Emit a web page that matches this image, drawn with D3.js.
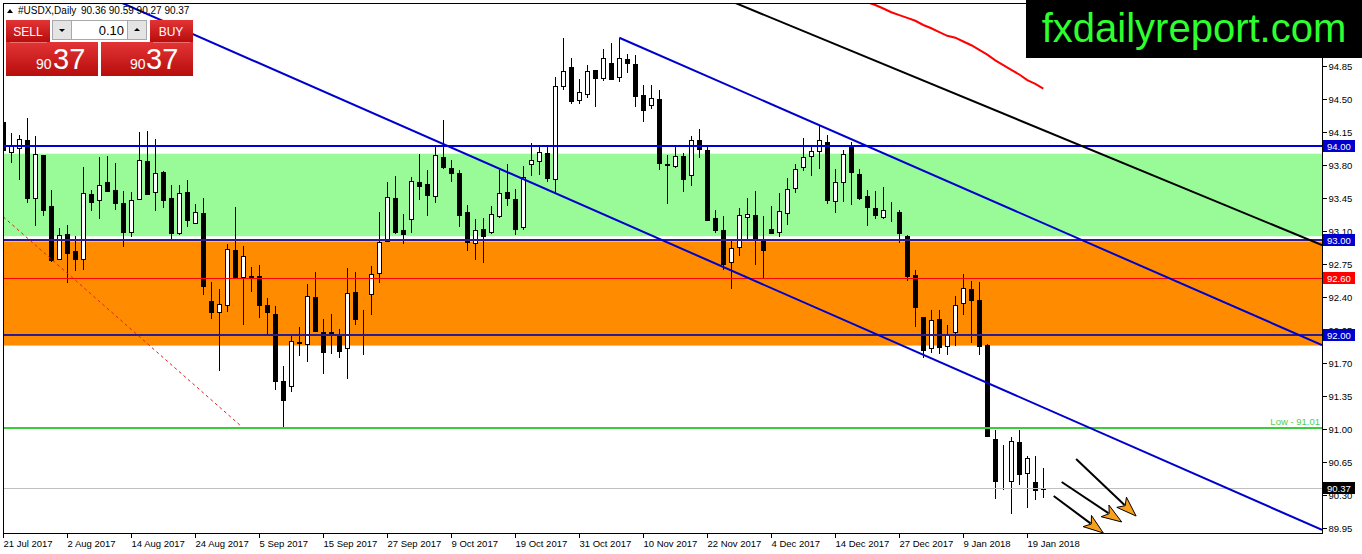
<!DOCTYPE html>
<html>
<head>
<meta charset="utf-8">
<script src="https://cdn.jsdelivr.net/npm/d3@7"></script>
<style>
body { margin: 0; background: #fff; overflow: hidden; }
svg { display: block; font-family: "Liberation Sans", Arial, sans-serif; }
</style>
</head>
<body>
<script>
// daily candles, bar 0 = 21 Jul 2017
var opens = [94.26,93.94,93.98,94.07,93.45,93.91,93.36,92.81,93.07,92.89,92.80,93.49,93.43,93.62,93.53,93.40,93.09,93.44,93.84,93.51,
  93.73,93.45,93.08,93.51,93.18,93.29,92.36,92.24,92.32,92.90,92.62,92.62,92.62,92.31,92.22,91.51,91.45,91.91,91.90,92.40,
  92.03,92.02,92.00,91.86,92.45,92.17,92.43,92.65,92.99,93.45,93.11,93.23,93.62,93.60,93.47,93.89,93.77,93.72,93.30,92.97,
  93.12,93.09,93.26,93.51,93.44,93.14,93.81,93.84,93.93,93.65,94.64,94.84,94.49,94.56,94.81,94.72,94.88,94.73,94.92,94.87,
  94.54,94.44,94.50,93.81,93.79,93.90,93.70,94.07,93.96,93.24,93.11,92.77,92.93,93.25,93.27,93.00,93.12,93.09,93.30,93.56,
  93.78,93.90,93.94,94.04,93.42,93.62,94.01,93.70,93.47,93.34,93.25,93.28,93.30,93.05,92.63,92.19,91.86,92.17,91.88,92.03,
  92.34,92.49,92.37,91.89,90.89,90.45,90.45,90.86,90.53,90.44,90.36];
var highs = [94.38,94.14,94.12,94.30,94.11,93.91,93.54,93.13,93.16,93.05,93.78,93.54,93.88,93.90,93.82,93.52,93.51,94.15,94.16,94.08,
  93.74,93.59,93.59,93.64,93.39,93.45,92.56,92.48,92.96,93.35,92.94,92.72,92.74,92.39,92.30,91.67,92.00,92.08,92.54,92.66,
  92.17,92.22,92.06,92.71,92.66,92.26,92.73,93.30,93.62,93.68,93.28,93.67,93.92,93.75,94.01,94.28,93.85,93.75,93.38,93.23,
  93.24,93.36,93.75,93.81,93.55,93.79,94.03,94.00,94.00,94.73,95.15,94.94,94.71,94.86,94.81,95.03,95.09,95.15,94.98,94.97,
  94.65,94.65,94.60,93.91,94.00,93.93,94.11,94.18,94.01,93.32,93.26,93.00,93.34,93.45,93.52,93.26,93.36,93.50,93.66,93.81,
  94.09,94.00,94.21,94.12,93.76,93.96,94.04,93.76,93.54,93.52,93.57,93.41,93.32,93.06,92.69,92.19,92.26,92.26,92.10,92.41,
  92.64,92.57,92.56,91.90,90.99,90.83,90.92,90.99,90.71,90.71,90.59];
var lows = [93.85,93.82,93.64,93.40,93.15,93.26,92.77,92.79,92.55,92.68,92.69,93.31,93.23,93.51,93.32,92.93,93.04,93.43,93.48,93.31,
  93.34,93.01,93.06,93.14,93.17,92.42,92.17,91.62,92.24,92.60,92.10,92.45,92.18,91.99,91.41,91.01,91.39,91.77,91.71,92.03,
  91.58,91.80,91.75,91.53,92.10,91.78,92.21,92.55,92.98,93.07,92.96,93.08,93.43,93.26,93.40,93.76,93.62,93.14,92.89,92.79,
  92.76,93.07,93.24,93.36,93.06,93.11,93.68,93.69,93.62,93.50,94.60,94.45,94.45,94.51,94.42,94.69,94.70,94.68,94.78,94.42,
  94.26,94.39,93.75,93.39,93.77,93.51,93.58,93.87,93.21,93.08,92.69,92.49,92.83,93.00,92.74,92.60,93.07,93.04,93.16,93.50,
  93.74,93.68,93.76,93.39,93.29,93.41,93.38,93.43,93.15,93.23,93.23,93.20,92.97,92.57,92.08,91.75,91.81,91.80,91.78,91.88,
  92.21,91.91,91.78,90.92,90.26,90.35,90.10,90.41,90.16,90.25,90.27];
var closes = [93.96,94.00,94.08,93.45,93.92,93.33,92.79,93.06,92.87,92.80,93.50,93.41,93.59,93.52,93.39,93.09,93.43,93.85,93.49,93.71,
  93.43,93.08,93.50,93.21,93.30,92.52,92.24,92.33,92.91,92.60,92.84,92.61,92.31,92.24,91.51,91.31,91.93,91.92,92.41,92.04,
  91.82,92.03,91.83,92.44,92.16,92.17,92.64,92.98,93.46,93.09,93.07,93.63,93.58,93.48,93.91,93.78,93.72,93.27,92.98,93.11,
  93.05,93.28,93.50,93.45,93.12,93.67,93.85,93.94,93.66,94.64,94.80,94.48,94.57,94.80,94.72,94.93,94.71,94.93,94.88,94.53,
  94.38,94.51,93.82,93.80,93.90,93.66,94.07,93.97,93.22,93.11,92.75,92.92,93.27,93.28,93.01,92.89,93.08,93.31,93.55,93.76,
  93.89,93.95,94.06,93.42,93.62,93.92,93.72,93.45,93.35,93.27,93.32,93.28,93.08,92.63,92.29,91.84,92.16,91.87,92.00,92.32,
  92.50,92.37,91.88,90.93,90.44,90.45,90.87,90.52,90.69,90.35,90.37];

var dateLabels = ["21 Jul 2017","2 Aug 2017","14 Aug 2017","24 Aug 2017","5 Sep 2017","15 Sep 2017","27 Sep 2017","9 Oct 2017",
  "19 Oct 2017","31 Oct 2017","10 Nov 2017","22 Nov 2017","4 Dec 2017","14 Dec 2017","27 Dec 2017","9 Jan 2018","19 Jan 2018"];
var dateBars = [0,8,16,24,32,40,48,56,64,72,80,88,96,104,112,120,128];
var priceTicks = [94.85,94.50,94.15,93.80,93.45,93.10,92.75,92.40,92.05,91.70,91.35,91.00,90.65,90.30,89.95];

// shaded zones
var zoneHigh = [93.92, 92.99];
var zoneLow = [93.045, 91.885];

// horizontal levels
var levelPrices = [94.00, 93.00, 92.60, 92.00, 91.01, 90.37];

// trend lines [bar, price] pairs
var lowerChannel = [[14.8, 95.52], [164.84, 89.93]];
var upperChannel = [[77, 95.15], [164.84, 91.89]];
var blackLine = [[91.46, 95.52], [164.84, 92.95]];
var redDashed = [[0, 93.25], [29.6, 91.04]];

// moving average, bars 108..130
var maStart = 108;
var maValues = [95.525,95.497,95.46,95.42,95.39,95.36,95.33,95.285,95.25,95.21,95.17,95.15,95.11,95.07,95.02,94.97,94.91,94.86,94.81,94.76,94.70,94.66,94.61];

// arrows [bar, price] from -> to
var arrowFrom = [[134.1, 90.682], [132.3, 90.438], [131.3, 90.29]];
var arrowTo = [[141.6, 90.077], [139.8, 90.014], [137.5, 89.897]];

var width = 1362, height = 554;
var plotLeft = 3, plotTop = 3, plotRight = 1322, plotBottom = 533;

var x = d3.scaleLinear().domain([0, 130]).range([3.3, 1043.3]);
var y = d3.scaleLinear().domain([89.95, 94.85]).range([528, 66]);

var svg = d3.select("body").append("svg")
  .attr("width", width)
  .attr("height", height);

var defs = svg.append("defs");
defs.append("clipPath").attr("id", "plotclip")
  .append("rect")
  .attr("x", plotLeft).attr("y", plotTop)
  .attr("width", plotRight - plotLeft).attr("height", plotBottom - plotTop);

var grad = defs.append("linearGradient").attr("id", "redg")
  .attr("x1", 0).attr("y1", 0).attr("x2", 0).attr("y2", 1);
grad.append("stop").attr("offset", "0%").attr("stop-color", "#e23434");
grad.append("stop").attr("offset", "100%").attr("stop-color", "#b80d0d");

var plot = svg.append("g").attr("clip-path", "url(#plotclip)");

// zones
var zoneColors = ["#98fb98", "#ff8c00"];
plot.selectAll(".zone")
  .data(zoneHigh)
  .enter()
  .append("rect")
  .attr("class", "zone")
  .attr("x", plotLeft)
  .attr("width", plotRight - plotLeft)
  .attr("y", function(d) { return y(d); })
  .attr("height", function(d, i) { return y(zoneLow[i]) - y(d); })
  .attr("fill", function(d, i) { return zoneColors[i]; });

// candles
var bars = opens.map(function(o, i) {
  return { i: i, o: o, h: highs[i], l: lows[i], c: closes[i] };
});

var candle = plot.selectAll(".bar")
  .data(bars)
  .enter()
  .append("g")
  .attr("class", "bar")
  .attr("shape-rendering", "crispEdges");

candle.append("line")
  .attr("x1", function(d) { return Math.round(x(d.i)) + 0.5; })
  .attr("x2", function(d) { return Math.round(x(d.i)) + 0.5; })
  .attr("y1", function(d) { return y(d.h); })
  .attr("y2", function(d) { return y(d.l); })
  .attr("stroke", "#000");

candle.append("rect")
  .attr("x", function(d) { return Math.round(x(d.i)) - 1.5; })
  .attr("width", 4)
  .attr("y", function(d) { return Math.round(y(Math.max(d.o, d.c))) + 0.5; })
  .attr("height", function(d) { return Math.round(Math.abs(y(d.o) - y(d.c))); })
  .attr("fill", function(d) { return d.c >= d.o ? "#fff" : "#000"; })
  .attr("stroke", "#000");

// horizontal levels
var levelColors = ["#0000dd", "#2a1c8c", "#ff0000", "#2a1c8c", "#3ccb3c", "#c0c0c0"];
var levelWidths = [2, 2, 1, 2, 2, 1];
plot.selectAll(".level")
  .data(levelPrices)
  .enter()
  .append("line")
  .attr("class", "level")
  .attr("x1", plotLeft).attr("x2", plotRight)
  .attr("y1", function(d, i) { return Math.round(y(d)) + (levelWidths[i] === 1 ? 0.5 : 0); })
  .attr("y2", function(d, i) { return Math.round(y(d)) + (levelWidths[i] === 1 ? 0.5 : 0); })
  .attr("stroke", function(d, i) { return levelColors[i]; })
  .attr("stroke-width", function(d, i) { return levelWidths[i]; })
  .attr("shape-rendering", "crispEdges");

var line = d3.line()
  .x(function(d) { return x(d[0]); })
  .y(function(d) { return y(d[1]); });

plot.append("path").datum(redDashed)
  .attr("d", line).attr("fill", "none")
  .attr("stroke", "#e02020").attr("stroke-width", 1)
  .attr("stroke-dasharray", "3,3");

plot.append("path").datum(lowerChannel)
  .attr("d", line).attr("fill", "none")
  .attr("stroke", "#0000cd").attr("stroke-width", 2);

plot.append("path").datum(upperChannel)
  .attr("d", line).attr("fill", "none")
  .attr("stroke", "#0000cd").attr("stroke-width", 2);

plot.append("path").datum(blackLine)
  .attr("d", line).attr("fill", "none")
  .attr("stroke", "#000").attr("stroke-width", 2);

plot.append("path").datum(maValues.map(function(v, k) { return [maStart + k, v]; }))
  .attr("d", line).attr("fill", "none")
  .attr("stroke", "#ff0000").attr("stroke-width", 2);

// arrows
arrowFrom.forEach(function(p, k) {
  var x0 = x(p[0]), y0 = y(p[1]);
  var x1 = x(arrowTo[k][0]), y1 = y(arrowTo[k][1]);
  var dx = x1 - x0, dy = y1 - y0;
  var len = Math.sqrt(dx * dx + dy * dy);
  var ux = dx / len, uy = dy / len;
  var bx = x1 - ux * 20, by = y1 - uy * 20;
  svg.append("line")
    .attr("x1", x0).attr("y1", y0)
    .attr("x2", bx + ux * 4).attr("y2", by + uy * 4)
    .attr("stroke", "#000").attr("stroke-width", 2);
  svg.append("polygon")
    .attr("points", [
      [x1, y1],
      [bx - uy * 7, by + ux * 7],
      [bx + ux * 5, by + uy * 5],
      [bx + uy * 7, by - ux * 7]
    ].map(function(q) { return q.join(","); }).join(" "))
    .attr("fill", "#f7a01c")
    .attr("stroke", "#000")
    .attr("stroke-width", 1);
});

// low label
svg.append("text")
  .attr("x", plotRight - 2)
  .attr("y", y(levelPrices[4]) - 3)
  .attr("text-anchor", "end")
  .attr("font-size", "9.5px")
  .attr("fill", "#4fcf4f")
  .text("Low - " + levelPrices[4].toFixed(2));

// frame
svg.append("rect")
  .attr("x", plotLeft + 0.5).attr("y", plotTop + 0.5)
  .attr("width", plotRight - plotLeft).attr("height", plotBottom - plotTop)
  .attr("fill", "none").attr("stroke", "#000")
  .attr("shape-rendering", "crispEdges");

// right price axis
var yAxis = svg.append("g")
  .attr("transform", "translate(" + (plotRight + 0.5) + ",0)")
  .call(d3.axisRight(y).tickValues(priceTicks).tickSize(4).tickSizeOuter(0).tickFormat(d3.format(".2f")));
yAxis.select(".domain").remove();
yAxis.selectAll("text")
  .attr("font-family", "'Liberation Sans', Arial, sans-serif")
  .attr("font-size", "9.5px")
  .attr("x", 6)
  .attr("fill", "#000");
yAxis.selectAll("line").attr("stroke", "#000").attr("shape-rendering", "crispEdges");

// price boxes on axis
var boxPrices = [94.00, 93.00, 92.60, 92.00, 90.37];
var boxColors = ["#0000cd", "#0000cd", "#ff0000", "#0000cd", "#000000"];
var boxes = svg.selectAll(".pbox")
  .data(boxPrices)
  .enter()
  .append("g")
  .attr("class", "pbox")
  .attr("transform", function(d) { return "translate(" + (plotRight + 1) + "," + Math.round(y(d)) + ")"; });
boxes.append("rect")
  .attr("x", 0).attr("y", -6)
  .attr("width", 32).attr("height", 12)
  .attr("fill", function(d, i) { return boxColors[i]; });
boxes.append("text")
  .attr("x", 4).attr("y", 4)
  .attr("font-size", "9.5px")
  .attr("fill", "#fff")
  .text(function(d) { return d.toFixed(2); });

// bottom date axis
var xAxis = svg.append("g")
  .attr("transform", "translate(0," + (plotBottom + 0.5) + ")")
  .call(d3.axisBottom(x).tickValues(dateBars).tickSize(4).tickSizeOuter(0)
    .tickFormat(function(d, i) { return dateLabels[i]; }));
xAxis.select(".domain").remove();
xAxis.selectAll(".tick").attr("transform", function(d) { return "translate(" + (Math.round(x(d)) + 0.5) + ",0)"; });
xAxis.selectAll("text")
  .attr("font-family", "'Liberation Sans', Arial, sans-serif")
  .attr("font-size", "9.5px")
  .attr("text-anchor", "start")
  .attr("x", 0)
  .attr("y", 7)
  .attr("fill", "#000");
xAxis.selectAll("line").attr("stroke", "#000").attr("shape-rendering", "crispEdges");

// header
var last = bars[bars.length - 1];
svg.append("path").attr("d", "M7,13 L10,9 L13,13 Z").attr("fill", "#000");
svg.append("text").attr("x", 18).attr("y", 14).attr("font-size", "10px").text("#USDX,Daily");
svg.append("text").attr("x", 81).attr("y", 14).attr("font-size", "10px")
  .text([last.o, last.h, last.l, last.c].map(function(v) { return v.toFixed(2); }).join(" "));

// one-click trading panel
var panel = svg.append("g");
panel.append("rect").attr("x", 6).attr("y", 20).attr("width", 44).attr("height", 22).attr("fill", "url(#redg)");
panel.append("rect").attr("x", 150).attr("y", 20).attr("width", 43).attr("height", 22).attr("fill", "url(#redg)");
panel.append("rect").attr("x", 6).attr("y", 42).attr("width", 92).attr("height", 34).attr("fill", "url(#redg)");
panel.append("rect").attr("x", 101).attr("y", 42).attr("width", 92).attr("height", 34).attr("fill", "url(#redg)");
panel.append("line").attr("x1", 10).attr("x2", 47).attr("y1", 42.5).attr("y2", 42.5).attr("stroke", "#f07070");
panel.append("line").attr("x1", 153).attr("x2", 190).attr("y1", 42.5).attr("y2", 42.5).attr("stroke", "#f07070");
panel.append("rect").attr("x", 52.5).attr("y", 20.5).attr("width", 19).attr("height", 19).attr("fill", "#e4e4e4").attr("stroke", "#a8a8a8");
panel.append("rect").attr("x", 71.5).attr("y", 20.5).attr("width", 56).attr("height", 19).attr("fill", "#fff").attr("stroke", "#a8a8a8");
panel.append("rect").attr("x", 127.5).attr("y", 20.5).attr("width", 19).attr("height", 19).attr("fill", "#e4e4e4").attr("stroke", "#a8a8a8");
panel.append("path").attr("d", "M59,29 L65,29 L62,32 Z").attr("fill", "#000");
panel.append("path").attr("d", "M134,31 L140,31 L137,28 Z").attr("fill", "#000");
panel.append("text").attr("x", 124).attr("y", 35).attr("text-anchor", "end").attr("font-size", "13px").attr("fill", "#000").text("0.10");
panel.append("text").attr("x", 28).attr("y", 36).attr("text-anchor", "middle").attr("font-size", "12px").attr("fill", "#fff").text("SELL");
panel.append("text").attr("x", 171).attr("y", 36).attr("text-anchor", "middle").attr("font-size", "12px").attr("fill", "#fff").text("BUY");

var priceParts = last.c.toFixed(2).split(".");
[[36, 53], [130, 146]].forEach(function(p) {
  panel.append("text").attr("x", p[0]).attr("y", 69).attr("font-size", "14px").attr("fill", "#fff").text(priceParts[0]);
  panel.append("text").attr("x", p[1]).attr("y", 69).attr("font-size", "29px").attr("fill", "#fff").text(priceParts[1]);
});

// logo
svg.append("rect").attr("x", 1026).attr("y", 0).attr("width", 336).attr("height", 58).attr("fill", "#000");
svg.append("text")
  .attr("x", 1194).attr("y", 42)
  .attr("text-anchor", "middle")
  .attr("font-size", "40px")
  .attr("fill", "#2eff2e")
  .text("fxdailyreport.com");
</script>
</body>
</html>
